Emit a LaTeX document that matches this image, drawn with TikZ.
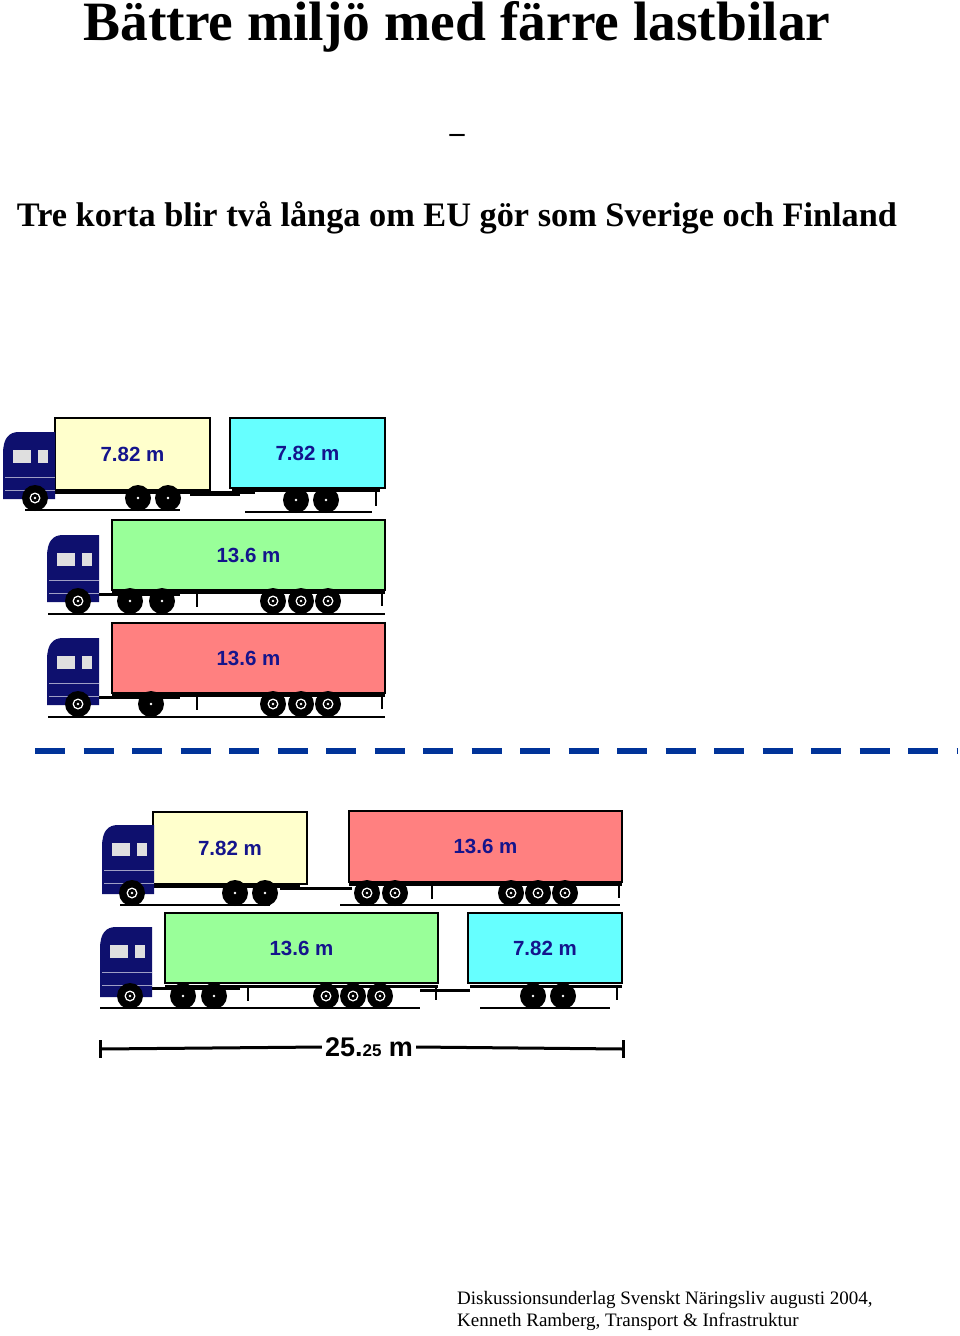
\documentclass[tikz,border=0pt]{standalone}
\usepackage{fontspec}
\setmainfont{Liberation Serif}
\newfontfamily\lab{Liberation Sans}
\definecolor{navy}{RGB}{14,16,110}
\definecolor{cyel}{RGB}{255,255,204}
\definecolor{ccya}{RGB}{102,255,255}
\definecolor{cgrn}{RGB}{153,255,153}
\definecolor{cred}{RGB}{255,128,128}
\definecolor{lblue}{RGB}{20,20,140}
\definecolor{dashblue}{RGB}{0,51,153}
\newcommand\mycab[3]{% x, top, bottom
 \fill[navy] (#1,#3-6) -- (#1,#2+22) .. controls (#1,#2+6) and (#1+6,#2) .. (#1+16,#2) -- (#1+52,#2) -- (#1+52,#3-6) -- cycle;
 \fill[gray!25] (#1+10,#2+18) rectangle (#1+28,#2+31);
 \fill[gray!25] (#1+35,#2+18) rectangle (#1+45,#2+31);
 \draw[white!60!navy,line width=.4pt] (#1+2,#2+45) -- (#1+52,#2+45) (#1+2,#2+58)--(#1+52,#2+58);
}
\newcommand\whl[2]{\fill (#1,#2) circle (13); \fill[white] (#1,#2) circle (1.3);}
\newcommand\whr[2]{\fill (#1,#2) circle (13); \fill[white] (#1,#2) circle (5.5); \fill (#1,#2) circle (4); \fill[white] (#1,#2) circle (1.3);}
\tikzset{box/.style={draw=black,line width=1.6pt},lbl/.style={font=\lab\bfseries\fontsize{20.5}{20.5}\selectfont,text=lblue},
 chas/.style={line width=3pt,black},gnd/.style={line width=1.5pt,black}}
\begin{document}
\begin{tikzpicture}[x=1pt,y=-1pt]
\useasboundingbox (0,0) rectangle (960,1336);
\node[font=\bfseries\fontsize{55.5}{55.5}\selectfont] (t) at (457,27) {Bättre miljö med färre lastbilar};
\node[font=\bfseries\fontsize{30}{30}\selectfont] (d) at (457,138) {–};
\node[font=\bfseries\fontsize{34.3}{34.3}\selectfont] (s) at (457,218) {Tre korta blir två långa om EU gör som Sverige och Finland};
% ---- truck 1 (rigid + trailer)
\draw[gnd] (25,510)--(180,510); \draw[gnd] (245,512)--(372,512);
\draw[chas] (55,492)--(255,492); \draw[chas] (190,494)--(240,494);
\draw[chas] (232,490)--(380,490); \draw[line width=2pt] (376,490)--(376,506);
\node[box,fill=cyel,minimum width=155,minimum height=72,inner sep=0] (b1) at (132.5,454) {}; \node[lbl] at (b1) {7.82 m};
\node[box,fill=ccya,minimum width=155,minimum height=70,inner sep=0] (b2) at (307.5,453) {}; \node[lbl] at (b2) {7.82 m};
\mycab{3}{432}{505}
\whl{35}{498}\whl{138}{498}\whl{168}{498}\whl{296}{500}\whl{326}{500}
\fill[white] (35,498) circle (5.5); \fill (35,498) circle (4); \fill[white](35,498) circle (1.3);
% ---- truck 2 (semi)
\draw[gnd] (48,614)--(385,614);
\draw[chas] (98,594)--(180,594); \draw[chas] (112,592)--(385,592); \draw[line width=2.5pt] (197,592)--(197,607);
\draw[line width=2pt] (382,592)--(382,606);
\node[box,fill=cgrn,minimum width=273,minimum height=70,inner sep=0] (b3) at (248.5,555) {}; \node[lbl] at (b3) {13.6 m};
\mycab{47}{535}{608}
\whr{78}{601}\whl{130}{601}\whl{162}{601}\whr{273}{601}\whr{301}{601}\whr{328}{601}
% ---- truck 3 (semi)
\draw[gnd] (48,717)--(385,717);
\draw[chas] (98,697)--(180,697); \draw[chas] (112,695)--(385,695); \draw[line width=2.5pt] (197,695)--(197,710);
\draw[line width=2pt] (382,695)--(382,709);
\node[box,fill=cred,minimum width=273,minimum height=70,inner sep=0] (b4) at (248.5,658) {}; \node[lbl] at (b4) {13.6 m};
\mycab{47}{638}{711}
\whr{78}{704}\whl{151}{704}\whr{273}{704}\whr{301}{704}\whr{328}{704}
% ---- dashed line
\coordinate (dl) at (35,751); \coordinate (dr) at (958,751);
\draw[dashblue,line width=6pt,dash pattern=on 30pt off 18.5pt] (dl)--(dr);
% ---- truck A
\draw[gnd] (120,905)--(270,905); \draw[gnd] (340,905)--(620,905);
\draw[chas] (152,886)--(300,886); \draw[chas] (280,888)--(352,888);
\draw[chas] (349,884)--(622,884); \draw[line width=2.5pt] (432,884)--(432,899); \draw[line width=2pt] (619,884)--(619,898);
\node[box,fill=cyel,minimum width=154,minimum height=72,inner sep=0] (b5) at (230,848) {}; \node[lbl] at (b5) {7.82 m};
\node[box,fill=cred,minimum width=273,minimum height=71,inner sep=0] (b6) at (485.5,846.5) {}; \node[lbl] at (b6) {13.6 m};
\mycab{102}{825}{900}
\whr{132}{893}\whl{235}{893}\whl{265}{893}\whr{367}{893}\whr{395}{893}\whr{511}{893}\whr{538}{893}\whr{565}{893}
% ---- truck B
\draw[gnd] (100,1008)--(420,1008); \draw[gnd] (480,1008)--(610,1008);
\draw[chas] (150,988)--(240,988); \draw[chas] (165,986)--(438,986); \draw[chas] (420,990)--(470,990);
\draw[line width=2.5pt] (248,986)--(248,1001); \draw[line width=2pt] (436,986)--(436,1000);
\draw[chas] (470,986)--(622,986); \draw[line width=2pt] (617,986)--(617,1000);
\node[box,fill=cgrn,minimum width=273,minimum height=70,inner sep=0] (b7) at (301.5,948) {}; \node[lbl] at (b7) {13.6 m};
\node[box,fill=ccya,minimum width=154,minimum height=70,inner sep=0] (b8) at (545,948) {}; \node[lbl] at (b8) {7.82 m};
\mycab{100}{927}{1003}
\whr{130}{996}\whl{183}{996}\whl{214}{996}\whr{326}{996}\whr{353}{996}\whr{380}{996}\whl{533}{996}\whl{563}{996}
% ---- dimension
\node[font=\lab\bfseries\fontsize{27}{27}\selectfont,inner sep=3pt] (dim) at (369,1047) {25.{\fontsize{17}{17}\selectfont 25} m};
\coordinate (da) at (100,1049); \coordinate (db) at (623,1049);
\draw[line width=3pt] (da)--(dim.west) (dim.east)--(db);
\draw[line width=3pt] (100,1040)--(100,1058) (623,1040)--(623,1058);
% ---- footer
\node[anchor=west,font=\fontsize{19}{19}\selectfont,inner sep=0] (f1) at (457,1300) {Diskussionsunderlag Svenskt Näringsliv augusti 2004,};
\node[anchor=west,font=\fontsize{19}{19}\selectfont,inner sep=0] (f2) at (457,1322) {Kenneth Ramberg, Transport \& Infrastruktur};
\end{tikzpicture}
\end{document}
